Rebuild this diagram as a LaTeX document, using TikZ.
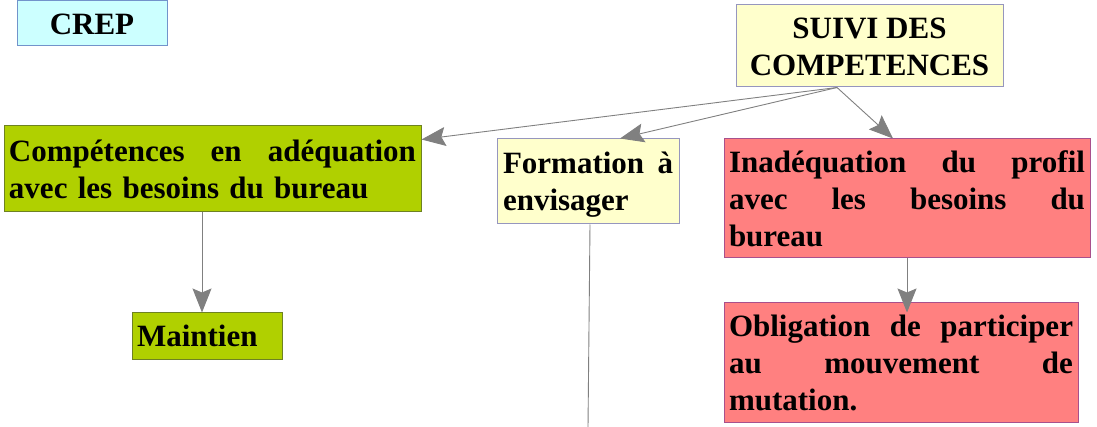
\documentclass[tikz,border=0pt]{standalone}
\usepackage{fontspec}
\setmainfont{Liberation Serif}
\usetikzlibrary{arrows.meta}
\definecolor{crepfill}{HTML}{CCFFFF}
\definecolor{crepdraw}{HTML}{7293CB}
\definecolor{yelfill}{HTML}{FFFFCC}
\definecolor{yeldraw}{HTML}{9696BE}
\definecolor{grnfill}{HTML}{B0D000}
\definecolor{grndraw}{HTML}{6E8222}
\definecolor{redfill}{HTML}{FF8080}
\definecolor{reddraw}{HTML}{A8508C}
\definecolor{linkgray}{HTML}{808080}
\newcommand\mystrut{\rule[-7pt]{0pt}{36pt}}
\newcommand\jline[2]{\mystrut\hbox to #1{#2}}
\tikzset{
  boxbase/.style={rectangle, line width=1pt, inner ysep=0pt, inner xsep=5pt,
    font=\bfseries\fontsize{31}{37}\selectfont},
  crepbox/.style={boxbase, draw=crepdraw, fill=crepfill, align=center},
  yelbox/.style={boxbase, draw=yeldraw, fill=yelfill},
  grnbox/.style={boxbase, draw=grndraw, fill=grnfill},
  redbox/.style={boxbase, draw=reddraw, fill=redfill},
  link/.style={draw=linkgray, line width=0.9pt},
  arrowlink/.style={link, -{Stealth[length=24pt,width=19pt,inset=4pt,fill=linkgray]}}
}
\begin{document}
\begin{tikzpicture}[x=1pt,y=-1pt]
\useasboundingbox (0,0) rectangle (1097,427);

\node[crepbox, minimum width=150pt, minimum height=45pt] (crep) at (92,23.5)
  {\mystrut CREP};
\node[yelbox, align=center, minimum width=267pt, minimum height=82pt] (suivi) at (869.5,46)
  {\mystrut SUIVI DES\\ COMPETENCES\mystrut};
\node[grnbox, align=left, text width=407pt, minimum width=417pt, minimum height=86pt] (comp) at (212.5,169)
  {\jline{407pt}{Compétences\hfill en\hfill adéquation}\\ avec les besoins du bureau\mystrut};
\node[yelbox, align=left, inner xsep=6pt, text width=170pt, minimum width=182pt, minimum height=85pt] (form) at (588,181.5)
  {\jline{170pt}{Formation\hfill à}\\ envisager\mystrut};
\node[redbox, align=left, text width=356pt, minimum width=366pt, minimum height=119pt] (inad) at (907,198.5)
  {\jline{356pt}{Inadéquation\hfill du\hfill profil}\\ \jline{356pt}{avec\hfill les\hfill besoins\hfill du}\\ bureau\mystrut};
\node[grnbox, align=left, text width=140pt, minimum width=150pt, minimum height=46pt] (maint) at (207,336)
  {\mystrut Maintien};
\node[redbox, align=left, text width=344pt, minimum width=354pt, minimum height=119pt] (obl) at (901,362.5)
  {\jline{344pt}{Obligation\hfill de\hfill participer}\\ \jline{344pt}{au\hfill mouvement\hfill de}\\ mutation.\mystrut};

\coordinate (formend) at (588,427);

\draw[arrowlink] ([xshift=-32.5pt]suivi.south) -- ([yshift=-14pt]comp.north east);
\draw[arrowlink] ([xshift=-32.5pt]suivi.south) -- ([xshift=32pt]form.north);
\draw[arrowlink] ([xshift=-32.5pt]suivi.south) -- ([xshift=-14pt]inad.north);
\draw[arrowlink] ([xshift=-10.5pt]comp.south) -- ([xshift=-5pt]maint.north);
\draw[arrowlink, shorten >=-10pt] (inad.south) -- ([xshift=6pt]obl.north);
\draw[link] ([xshift=2pt]form.south) -- (formend);
\end{tikzpicture}
\end{document}
